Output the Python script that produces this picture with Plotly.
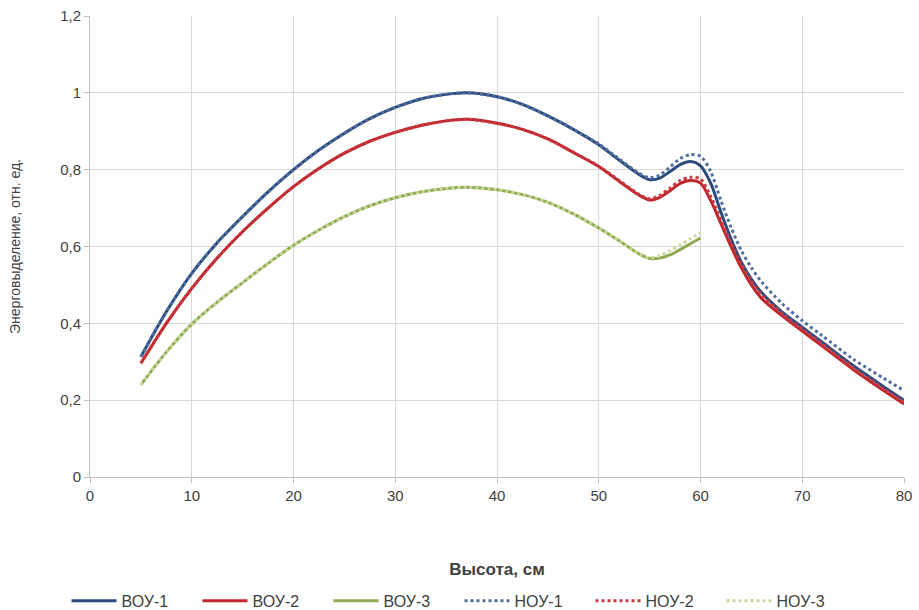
import plotly.graph_objects as go

x_full = [5, 7.5, 10, 12.5, 15, 17.5, 20, 22.5, 25, 27.5, 30, 32.5, 35, 37, 40, 42.5, 45, 47.5,
          50, 52, 54, 55, 56, 57, 58, 59, 60, 61, 62, 63, 64, 65, 66, 68, 70, 72, 75, 78, 80]
x_short = [5, 7.5, 10, 12.5, 15, 17.5, 20, 22.5, 25, 27.5, 30, 32.5, 35, 37, 40, 42.5, 45, 47.5,
           50, 52, 54, 55, 56, 57, 58, 59, 60]

boy1 = [0.313, 0.43, 0.53, 0.61, 0.678, 0.742, 0.80, 0.851, 0.895, 0.933, 0.962, 0.984, 0.996, 1.0,
        0.99, 0.97, 0.94, 0.905, 0.865, 0.825, 0.787, 0.774, 0.778, 0.795, 0.813, 0.821, 0.81,
        0.765, 0.69, 0.62, 0.56, 0.515, 0.48, 0.43, 0.39, 0.35, 0.29, 0.235, 0.20]
boy2 = [0.296, 0.40, 0.491, 0.57, 0.639, 0.70, 0.756, 0.803, 0.843, 0.874, 0.897, 0.915, 0.927,
        0.931, 0.921, 0.905, 0.88, 0.845, 0.808, 0.77, 0.733, 0.721, 0.728, 0.745, 0.764, 0.772,
        0.765, 0.72, 0.66, 0.60, 0.545, 0.50, 0.465, 0.42, 0.38, 0.34, 0.28, 0.225, 0.19]
boy3 = [0.24, 0.325, 0.398, 0.455, 0.506, 0.556, 0.603, 0.643, 0.678, 0.706, 0.727, 0.742, 0.751,
        0.754, 0.748, 0.735, 0.715, 0.685, 0.648, 0.615, 0.58, 0.569, 0.57, 0.578, 0.592, 0.607,
        0.622]
hoy1 = [0.313, 0.43, 0.53, 0.61, 0.678, 0.742, 0.80, 0.851, 0.895, 0.933, 0.962, 0.984, 0.996, 1.0,
        0.99, 0.97, 0.94, 0.905, 0.867, 0.828, 0.79, 0.779, 0.786, 0.807, 0.829, 0.839, 0.835,
        0.795, 0.72, 0.65, 0.59, 0.545, 0.508, 0.452, 0.407, 0.367, 0.307, 0.257, 0.225]
hoy2 = [0.296, 0.40, 0.491, 0.57, 0.639, 0.70, 0.756, 0.803, 0.843, 0.874, 0.897, 0.915, 0.927,
        0.931, 0.921, 0.905, 0.88, 0.845, 0.809, 0.772, 0.735, 0.724, 0.733, 0.752, 0.772, 0.78,
        0.776, 0.73, 0.67, 0.61, 0.555, 0.51, 0.475, 0.427, 0.386, 0.346, 0.285, 0.23, 0.195]
hoy3 = [0.24, 0.325, 0.398, 0.455, 0.506, 0.556, 0.603, 0.643, 0.678, 0.706, 0.727, 0.742, 0.751,
        0.754, 0.748, 0.735, 0.715, 0.685, 0.648, 0.615, 0.58, 0.571, 0.576, 0.589, 0.604, 0.62,
        0.636]

names = ["ВОУ-1", "ВОУ-2", "ВОУ-3", "НОУ-1", "НОУ-2", "НОУ-3"]
series = [(x_full, boy1), (x_full, boy2), (x_short, boy3), (x_full, hoy1), (x_full, hoy2), (x_short, hoy3)]
colors = ["#2B4A7E", "#C0262B", "#8DAA52", "#4E6E9E", "#C8383E", "#C7D89A"]
dashes = ["solid", "solid", "solid", "3px,3px", "3px,3px", "3px,3px"]

fig = go.Figure()
for name, (xs, ys), c, d in zip(names, series, colors, dashes):
    fig.add_trace(go.Scatter(x=xs, y=ys, name=name, mode="lines",
                             line=dict(color=c, width=3, dash=d, shape="spline", smoothing=0.8)))

axis_font = dict(family="Liberation Sans, Arial, sans-serif", size=15, color="#404040")
fig.update_layout(
    width=919, height=610,
    margin=dict(l=90, r=15, t=16, b=133, autoexpand=False),
    paper_bgcolor="white", plot_bgcolor="white",
    separators=", ",
    showlegend=True,
    legend=dict(orientation="h", xref="container", x=0.5, xanchor="center",
                yref="container", y=0.015, yanchor="middle",
                font=dict(family="Liberation Sans, Arial", size=16, color="#404040"),
                itemwidth=45, entrywidth=71, entrywidthmode="pixels", tracegroupgap=0),
    xaxis=dict(range=[0, 80], dtick=10, tick0=0, showgrid=True, gridcolor="#D9D9D9", gridwidth=1,
               showline=True, linecolor="#BFBFBF", linewidth=1, zeroline=False, automargin=False,
               ticks="outside", ticklen=5, tickcolor="#BFBFBF",
               tickfont=axis_font,
               title=dict(text="Высота, см", standoff=60,
                          font=dict(family="Liberation Sans, Arial", size=17, color="#404040", weight="bold"))),
    yaxis=dict(range=[0, 1.2], dtick=0.2, tick0=0, showgrid=True, gridcolor="#D9D9D9", gridwidth=1,
               showline=True, linecolor="#BFBFBF", linewidth=1, zeroline=False, automargin=False,
               ticks="outside", ticklen=5, tickcolor="#BFBFBF",
               tickfont=axis_font,
               title=dict(text="Энерговыделение, отн. ед.", standoff=36,
                          font=dict(family="Liberation Sans, Arial", size=14, color="#404040"))),
)

fig.write_html("out.html")
